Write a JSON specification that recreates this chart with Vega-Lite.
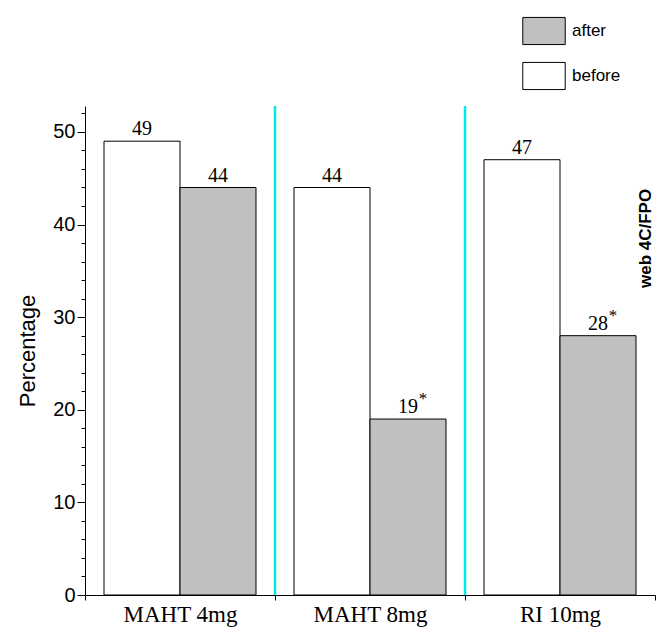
{
  "$schema": "https://vega.github.io/schema/vega-lite/v6.json",
  "width": 570,
  "height": 489,
  "autosize": "none",
  "padding": {"left": 85, "top": 106, "right": 10, "bottom": 38},
  "background": "white",
  "config": {"view": {"stroke": null}},
  "resolve": {"axis": {"x": "independent", "y": "independent"}},
  "datasets": {
    "bars": [
      {"group": "MAHT 4mg", "status": "before", "value": 49, "label": "49", "sup": ""},
      {"group": "MAHT 4mg", "status": "after", "value": 44, "label": "44", "sup": ""},
      {"group": "MAHT 8mg", "status": "before", "value": 44, "label": "44", "sup": ""},
      {"group": "MAHT 8mg", "status": "after", "value": 19, "label": "19", "sup": "*"},
      {"group": "RI 10mg", "status": "before", "value": 47, "label": "47", "sup": ""},
      {"group": "RI 10mg", "status": "after", "value": 28, "label": "28", "sup": "*"}
    ],
    "seps": [{"group": "MAHT 8mg"}, {"group": "RI 10mg"}],
    "note": [{"group": "RI 10mg", "value": 38.5, "text": "web 4C/FPO"}]
  },
  "layer": [
    {
      "data": {"name": "bars"},
      "mark": {"type": "bar", "stroke": "black", "strokeWidth": 1},
      "encoding": {
        "x": {
          "field": "group", "type": "nominal", "sort": ["MAHT 4mg", "MAHT 8mg", "RI 10mg"],
          "scale": {"paddingInner": 0, "paddingOuter": 0},
          "axis": {
            "title": null, "tickBand": "extent", "domainColor": "black", "tickColor": "black",
            "tickSize": 5, "labelAngle": 0, "labelFont": "Liberation Serif", "labelFontSize": 23,
            "labelColor": "black", "labelPadding": 3
          }
        },
        "xOffset": {
          "field": "status", "type": "nominal", "sort": ["before", "after"],
          "scale": {"paddingInner": 0, "paddingOuter": 0.25}
        },
        "y": {
          "field": "value", "type": "quantitative",
          "scale": {"domain": [0, 52.8], "nice": false, "zero": true},
          "axis": {
            "title": "Percentage", "titleFont": "Liberation Sans", "titleFontSize": 22,
            "titleFontWeight": "normal", "titleColor": "black", "titlePadding": 13,
            "values": [0, 2, 4, 6, 8, 10, 12, 14, 16, 18, 20, 22, 24, 26, 28, 30, 32, 34, 36, 38, 40, 42, 44, 46, 48, 50, 52],
            "labelExpr": "datum.value % 10 === 0 ? datum.label : ''",
            "labelOverlap": false, "labelBound": false, "labelFlush": false,
            "tickSize": {"condition": {"test": "datum.value % 10 === 0", "value": 8}, "value": 4},
            "labelFont": "Liberation Sans", "labelFontSize": 20, "labelColor": "black",
            "domainColor": "black", "tickColor": "black", "grid": false, "labelPadding": 2
          }
        },
        "color": {
          "field": "status", "type": "nominal",
          "scale": {"domain": ["after", "before"], "range": ["#c0c0c0", "#ffffff"]},
          "legend": {
            "title": null, "orient": "none", "legendX": 437, "legendY": -97,
            "symbolType": "M-1,-0.64H1V0.64H-1Z", "symbolSize": 1800,
            "symbolStrokeColor": "black", "symbolStrokeWidth": 1,
            "labelFont": "Liberation Sans", "labelFontSize": 17, "labelColor": "black",
            "rowPadding": 7, "labelOffset": 6
          }
        }
      }
    },
    {
      "data": {"name": "seps"},
      "mark": {"type": "rule", "color": "#00e8f0", "strokeWidth": 2.5},
      "encoding": {
        "x": {"field": "group", "type": "nominal", "sort": ["MAHT 4mg", "MAHT 8mg", "RI 10mg"], "bandPosition": 0, "axis": null}
      }
    },
    {
      "data": {"name": "bars"},
      "mark": {"type": "text", "font": "Liberation Serif", "fontSize": 20, "color": "black", "baseline": "bottom", "dy": -2},
      "encoding": {
        "x": {"field": "group", "type": "nominal", "sort": ["MAHT 4mg", "MAHT 8mg", "RI 10mg"], "axis": null},
        "xOffset": {"field": "status", "type": "nominal", "sort": ["before", "after"]},
        "y": {"field": "value", "type": "quantitative", "axis": null},
        "text": {"field": "label"}
      }
    },
    {
      "data": {"name": "bars"},
      "mark": {"type": "text", "font": "Liberation Serif", "fontSize": 17, "color": "black", "baseline": "bottom", "dx": 15, "dy": -11},
      "encoding": {
        "x": {"field": "group", "type": "nominal", "sort": ["MAHT 4mg", "MAHT 8mg", "RI 10mg"], "axis": null},
        "xOffset": {"field": "status", "type": "nominal", "sort": ["before", "after"]},
        "y": {"field": "value", "type": "quantitative", "axis": null},
        "text": {"field": "sup"}
      }
    },
    {
      "data": {"name": "note"},
      "mark": {"type": "text", "font": "Liberation Sans", "fontSize": 17, "fontWeight": "bold", "color": "black", "angle": 270, "align": "center", "baseline": "middle"},
      "encoding": {
        "x": {"field": "group", "type": "nominal", "sort": ["MAHT 4mg", "MAHT 8mg", "RI 10mg"], "bandPosition": 0.955, "axis": null},
        "y": {"field": "value", "type": "quantitative", "axis": null},
        "text": {"field": "text"}
      }
    }
  ]
}
